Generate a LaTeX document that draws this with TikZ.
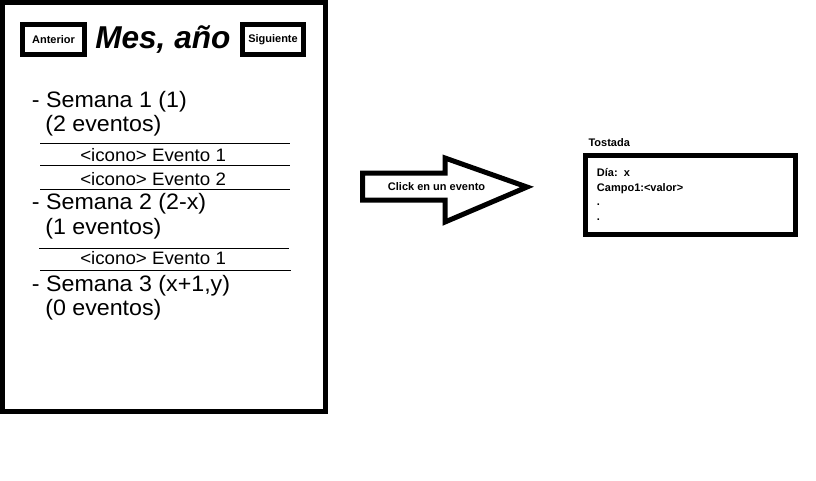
\documentclass[tikz,border=0pt]{standalone}
\usepackage{fontspec}
\setmainfont{Liberation Sans}
\newfontfamily\paintfont{Liberation Sans}[FakeStretch=1.04]
\begin{document}
\begin{tikzpicture}[x=0.75pt,y=0.75pt,yscale=-1,xscale=1,
  frame/.style={line width=3.75pt},
  btn/.style={draw,line width=3.75pt,inner sep=0pt,font=\fontsize{8.25}{10}\selectfont\bfseries},
  small/.style={inner sep=0pt,anchor=base west,font=\fontsize{8.25}{10}\selectfont\bfseries},
  week/.style={inner sep=0pt,anchor=base west,font=\paintfont\fontsize{16.75}{20}\selectfont},
  item/.style={inner sep=0pt,anchor=base west,font=\paintfont\fontsize{13.5}{16}\selectfont},
  sep/.style={line width=0.75pt}]
\useasboundingbox (0,0) rectangle (816,480);

%Shape: Rectangle [id:calendario] 
\draw  [frame] (2.5,2.5) rectangle (325.5,411) ;
%Shape: Rectangle [id:tostada] 
\draw  [frame] (585,155.5) rectangle (795,234.5) ;
%Shape: Right Arrow [id:flecha] 
\draw  [frame,line join=miter] (362.5,173) -- (445,173) -- (445,158) -- (527,187) -- (445,222) -- (445,200) -- (362.5,200) -- cycle ;

%Straight Lines [id:sep1] 
\draw  [sep] (40,143.3) -- (290,143.3) ;
%Straight Lines [id:sep2] 
\draw  [sep] (40,165) -- (290,165) ;
%Straight Lines [id:sep3] 
\draw  [sep] (40,189.3) -- (290,189.3) ;
%Straight Lines [id:sep4] 
\draw  [sep] (39,248) -- (289,248) ;
%Straight Lines [id:sep5] 
\draw  [sep] (40,270) -- (291,270) ;

% Text Node
\node [btn,minimum width=46.5pt,minimum height=22.5pt] (anterior) at (53.5,39.5) {Anterior};
% Text Node
\node [btn,minimum width=45.75pt,minimum height=22.5pt] (siguiente) at (273,39.5) {Siguiente};
% Text Node
\node [inner sep=0pt,anchor=base west,font=\fontsize{23.7}{28}\selectfont\bfseries\itshape] (mes) at (95,48.3) {Mes, año};

% Text Node
\node [week] (sem1) at (31.7,107.7) {- Semana 1 (1)};
% Text Node
\node [week] (sem1n) at (45,131.7) {(2 eventos)};
% Text Node
\node [item] (ev11) at (80,161.3) {<icono> Evento 1};
% Text Node
\node [item] (ev12) at (80,185) {<icono> Evento 2};
% Text Node
\node [week] (sem2) at (31.7,209) {- Semana 2 (2-x)};
% Text Node
\node [week] (sem2n) at (45,234.5) {(1 eventos)};
% Text Node
\node [item] (ev21) at (80,264.3) {<icono> Evento 1};
% Text Node
\node [week] (sem3) at (31.7,291) {- Semana 3 (x+1,y)};
% Text Node
\node [week] (sem3n) at (45,315) {(0 eventos)};

% Text Node
\node [small] (click) at (387.7,190.7) {Click en un evento};

% Text Node
\node [small] (titulo) at (588.3,146) {Tostada};
% Text Node
\node [small] (dia) at (596.7,176.7) {Día:~~x};
% Text Node
\node [small] (campo) at (596.7,191) {Campo1:<valor>};
% Text Node
\node [small] (punto1) at (596.7,205) {.};
% Text Node
\node [small] (punto2) at (596.7,220) {.};

\end{tikzpicture}
\end{document}
